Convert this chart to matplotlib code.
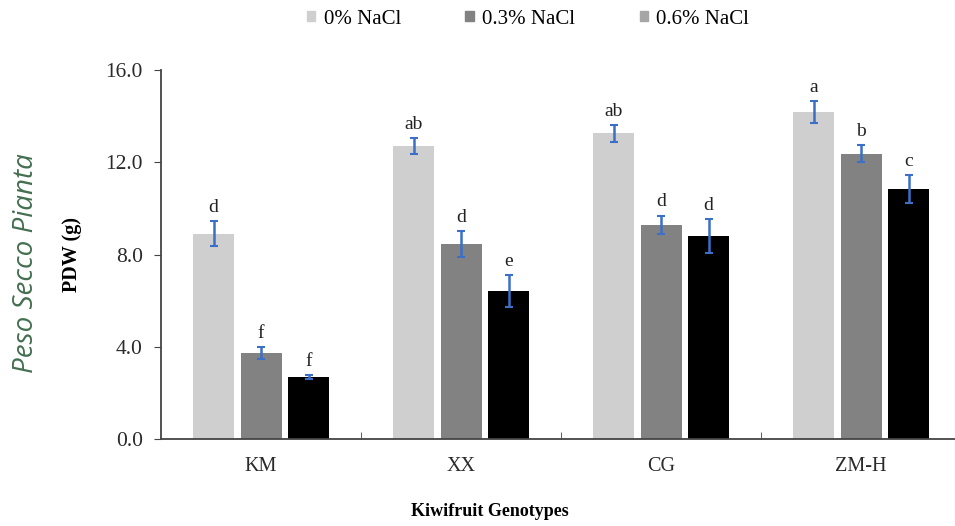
import matplotlib
matplotlib.use("Agg")
import matplotlib.pyplot as plt
from matplotlib.patches import Rectangle
import numpy as np

genotypes = ["KM", "XX", "CG", "ZM-H"]
treatments = ["0% NaCl", "0.3% NaCl", "0.6% NaCl"]
vals_0 = [8.9, 12.7, 13.25, 14.18]
vals_03 = [3.73, 8.46, 9.28, 12.36]
vals_06 = [2.69, 6.42, 8.80, 10.84]
err_0 = [0.55, 0.33, 0.37, 0.46]
err_03 = [0.26, 0.55, 0.41, 0.37]
err_06 = [0.07, 0.69, 0.74, 0.59]
letters_0 = ["d", "ab", "ab", "a"]
letters_03 = ["f", "d", "d", "b"]
letters_06 = ["f", "e", "d", "c"]
yticks = [0.0, 4.0, 8.0, 12.0, 16.0]

bar_colors = ["#cfcfcf", "#828282", "#000000"]
legend_colors = ["#cfcfcf", "#828282", "#a6a6a6"]
err_color = "#3b6fc8"
serif = ["Liberation Serif", "DejaVu Serif"]

fig = plt.figure(figsize=(9.55, 5.26), dpi=100)
W, H = 955, 526
ax = fig.add_axes([161 / W, 87 / H, (955 - 161) / W, 369 / H])

x = np.arange(len(genotypes))
width = 0.205
offsets = [-0.2375, 0.0, 0.2375]
series = [vals_0, vals_03, vals_06]
errs = [err_0, err_03, err_06]
letters = [letters_0, letters_03, letters_06]

for i in range(3):
    xs = x + offsets[i]
    ax.bar(xs, series[i], width, color=bar_colors[i], zorder=2)
    ax.errorbar(xs, series[i], yerr=errs[i], fmt="none", ecolor=err_color,
                elinewidth=1.8, capsize=3, capthick=1.5, zorder=3)
    for xx, v, e, l in zip(xs, series[i], errs[i], letters[i]):
        ax.text(xx, v + e + 0.22, l, ha="center", va="bottom",
                fontsize=14, family=serif, color="#222222")

ax.set_xlim(-0.5, -0.5 + (955 - 161) / 200)
ax.set_ylim(0, 16)
ax.set_yticks(yticks)
ax.set_yticklabels([f"{t:.1f}" for t in yticks], family=serif, fontsize=15.5,
                   color="#2a2a2a")
ax.set_xticks(x)
ax.set_xticklabels(genotypes, family=serif, fontsize=14.5, color="#2a2a2a")
ax.set_xticks([0.5, 1.5, 2.5], minor=True)
ax.tick_params(axis="x", which="major", length=0, pad=13)
ax.tick_params(axis="x", which="minor", direction="in", length=5, color="#444444")
ax.tick_params(axis="y", direction="out", length=5, color="#444444", pad=8)
for s in ["top", "right"]:
    ax.spines[s].set_visible(False)
for s in ["left", "bottom"]:
    ax.spines[s].set_color("#444444")
    ax.spines[s].set_linewidth(1.3)

ax.set_ylabel("PDW (g)", family=serif, fontsize=14.5, fontweight="bold",
              labelpad=17)
fig.text(490 / W, 1 - 511 / H, "Kiwifruit Genotypes", family=serif,
         fontsize=13, fontweight="bold", ha="center", va="center")

fig.text(26 / W, 1 - 263 / H, "Peso Secco Pianta", rotation=90,
         ha="center", va="center", fontsize=20, style="italic",
         family=["Open Sans", "DejaVu Sans"], color="#436f50")

handles = [Rectangle((0, 0), 1, 1, color=c) for c in legend_colors]
fig.legend(handles, treatments, loc="center", bbox_to_anchor=(528 / W, 1 - 19 / H),
           ncol=3, frameon=False, prop={"family": serif, "size": 15},
           handlelength=0.4, handleheight=0.4, handletextpad=0.4,
           columnspacing=3.1)

fig.savefig("out.png", dpi=100)
